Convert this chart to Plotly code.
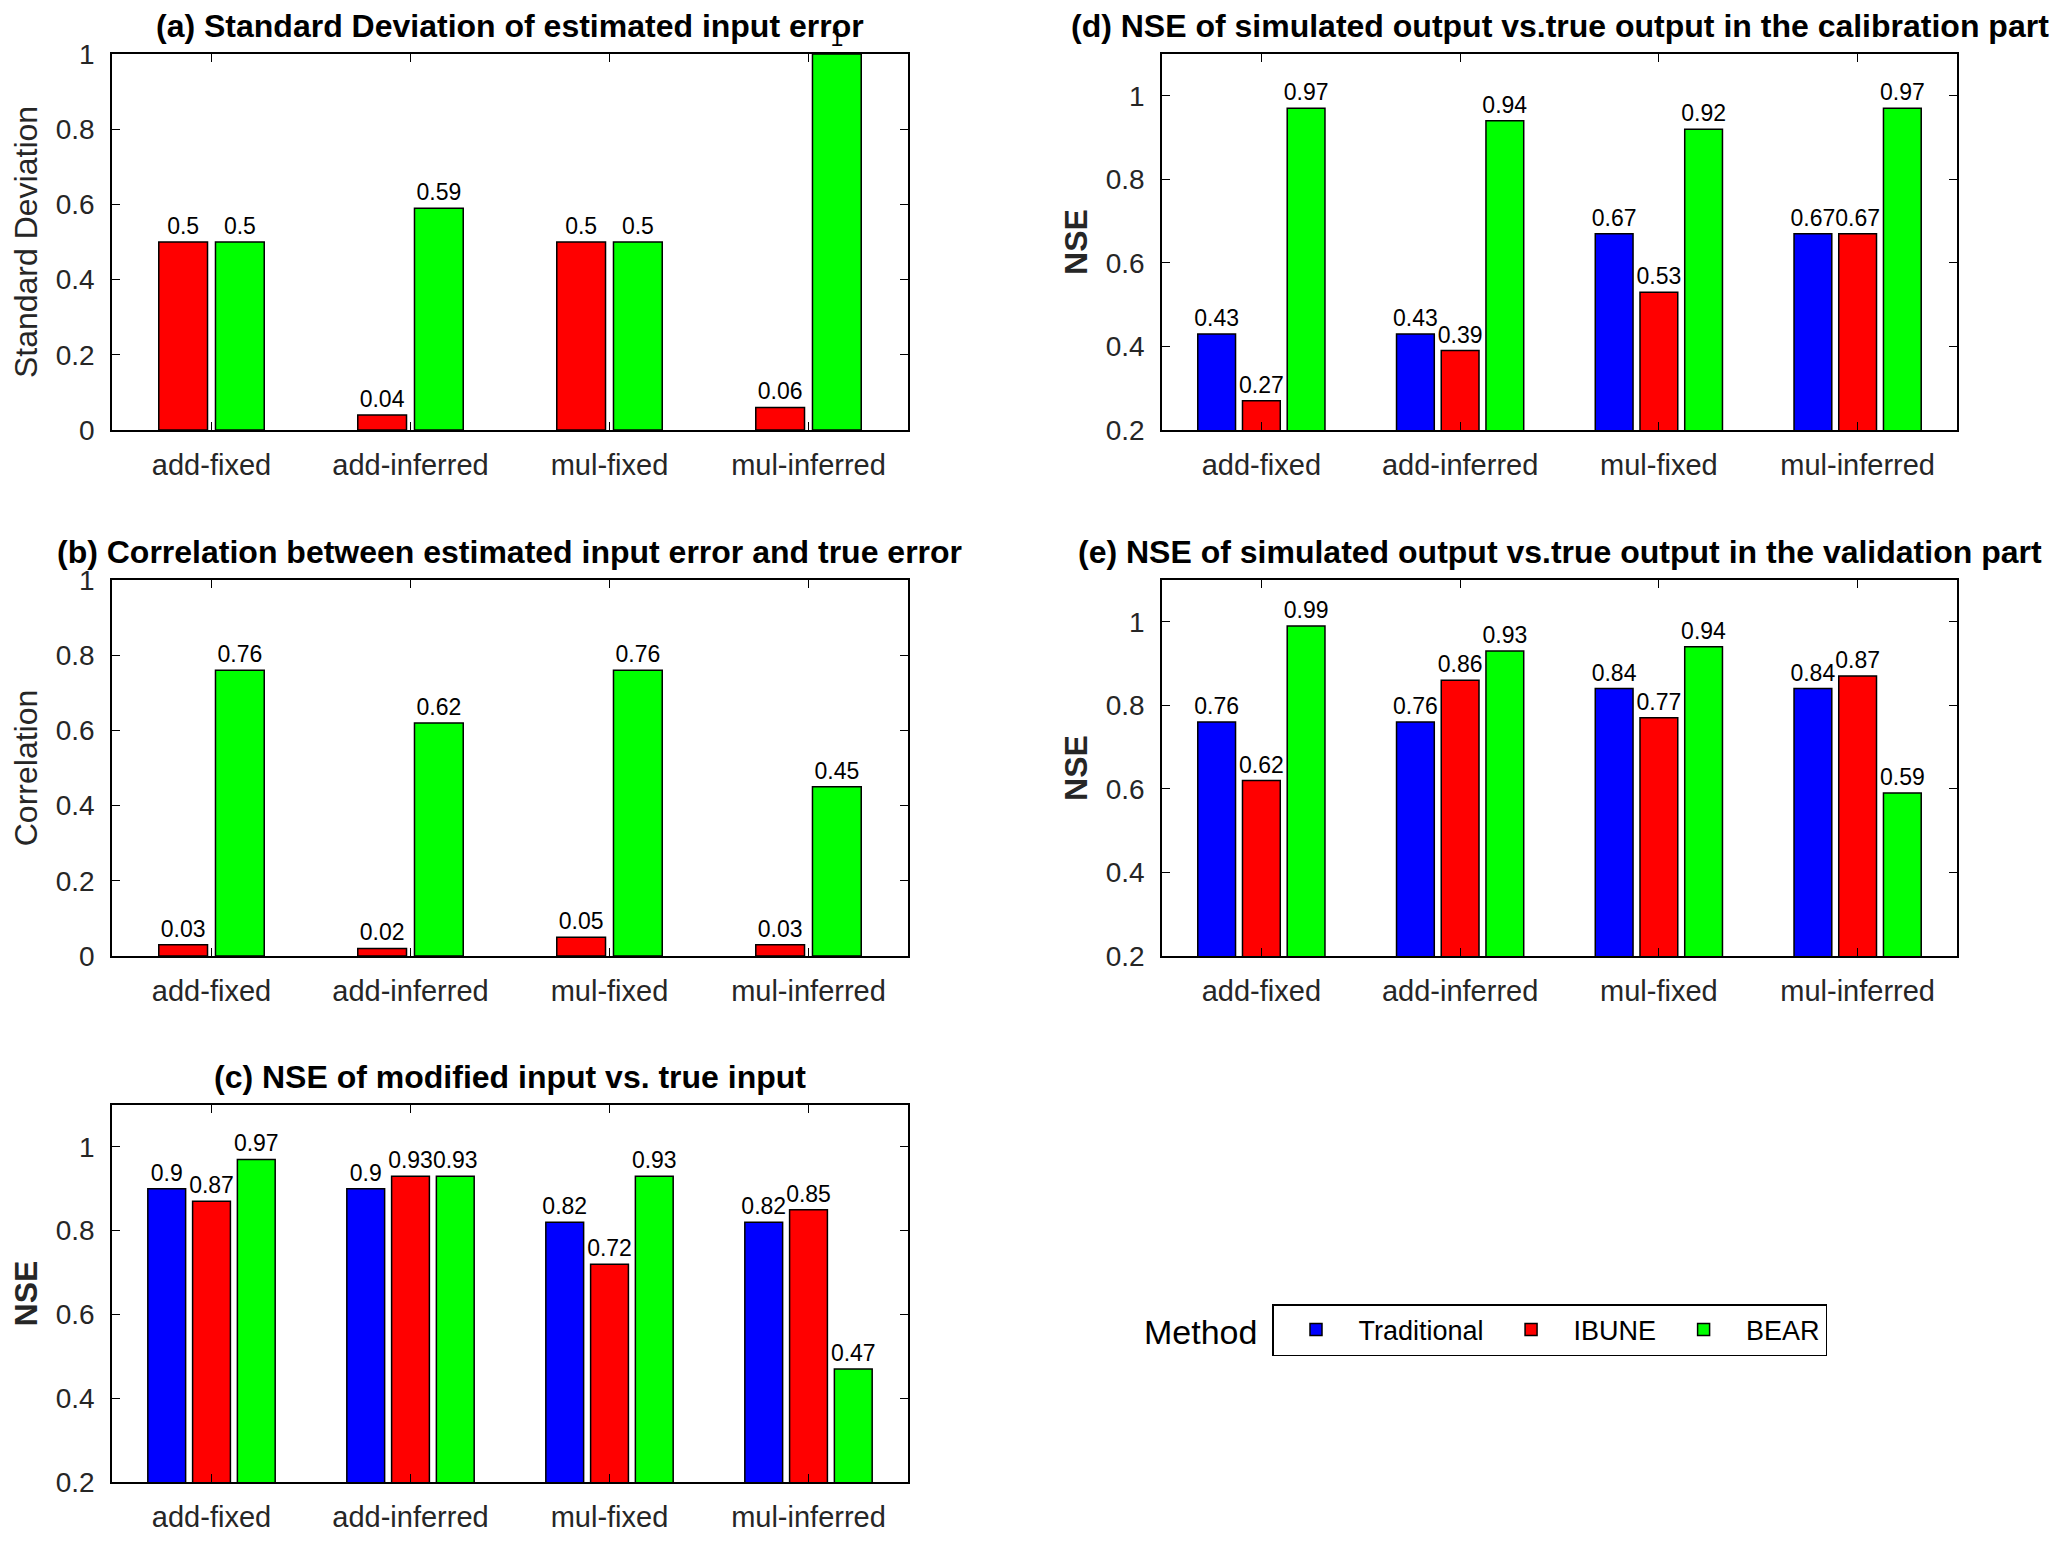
import plotly.graph_objects as go

# data
categories = ["add-fixed", "add-inferred", "mul-fixed", "mul-inferred"]

# (a) standard deviation of estimated input error
sd_ibune = [0.5, 0.04, 0.5, 0.06]
sd_bear = [0.5, 0.59, 0.5, 1.0]

# (b) correlation between estimated input error and true error
cor_ibune = [0.03, 0.02, 0.05, 0.03]
cor_bear = [0.76, 0.62, 0.76, 0.45]

# (c) NSE of modified input vs. true input
c_trad = [0.9, 0.9, 0.82, 0.82]
c_ibune = [0.87, 0.93, 0.72, 0.85]
c_bear = [0.97, 0.93, 0.93, 0.47]

# (d) NSE calibration
d_trad = [0.43, 0.43, 0.67, 0.67]
d_ibune = [0.27, 0.39, 0.53, 0.67]
d_bear = [0.97, 0.94, 0.92, 0.97]

# (e) NSE validation
e_trad = [0.76, 0.76, 0.84, 0.84]
e_ibune = [0.62, 0.86, 0.77, 0.87]
e_bear = [0.99, 0.93, 0.94, 0.59]

colors = {"Traditional": "#0000FF", "IBUNE": "#FF0000", "BEAR": "#00FF00"}
FONT = "Liberation Sans, Arial, Helvetica, sans-serif"
W, H = 2067, 1545
PAD = 8  # page body margin pushes the plot 8px right/down

# panel boxes in pixels of the final picture (left, right, top, bottom)
def dom(l, r, t, b):
    return [(l - PAD) / W, (r - PAD) / W], [1 - (b - PAD) / H, 1 - (t - PAD) / H]

panels = [
    # key, box, series, yrange, ytitle, title
    ("a", dom(112, 908, 54, 430), [("IBUNE", sd_ibune), ("BEAR", sd_bear)], [0, 1],
     "Standard Deviation", "Standard Deviation of estimated input error"),
    ("b", dom(112, 908, 580, 956), [("IBUNE", cor_ibune), ("BEAR", cor_bear)], [0, 1],
     "Correlation", "Correlation between estimated input error and true error"),
    ("c", dom(112, 908, 1105, 1482), [("Traditional", c_trad), ("IBUNE", c_ibune), ("BEAR", c_bear)], [0.2, 1.1],
     "<b>NSE</b>", "NSE of modified input vs. true input"),
    ("d", dom(1162, 1957, 54, 430), [("Traditional", d_trad), ("IBUNE", d_ibune), ("BEAR", d_bear)], [0.2, 1.1],
     "<b>NSE</b>", "NSE of simulated output vs.true output in the calibration part"),
    ("e", dom(1162, 1957, 580, 956), [("Traditional", e_trad), ("IBUNE", e_ibune), ("BEAR", e_bear)], [0.2, 1.1],
     "<b>NSE</b>", "NSE of simulated output vs.true output in the validation part"),
]

fig = go.Figure()
layout = {}
annotations = []

for i, (key, (xdom, ydom), series, yrange, ytitle, title) in enumerate(panels):
    n = i + 1
    xa = "x" if n == 1 else "x%d" % n
    ya = "y" if n == 1 else "y%d" % n
    if len(series) == 2:
        width = 0.245
        offsets = [-0.265, 0.02]
    else:
        width = 0.19
        offsets = [-0.32, -0.095, 0.13]
    for (name, vals), off in zip(series, offsets):
        fig.add_trace(go.Bar(
            x=list(range(len(categories))), y=vals, name=name,
            marker=dict(color=colors[name], line=dict(color="black", width=1.5)),
            width=width, offset=off,
            texttemplate="%{y}", textposition="outside", constraintext="none",
            textfont=dict(size=23, color="black", family=FONT),
            cliponaxis=False, showlegend=(key == "c"), legendgroup=name,
            xaxis=xa, yaxis=ya))
    lo, hi = yrange
    tv = [0, 0.2, 0.4, 0.6, 0.8, 1] if lo == 0 else [0.2, 0.4, 0.6, 0.8, 1]
    layout["xaxis" if n == 1 else "xaxis%d" % n] = dict(
        domain=xdom, anchor=ya, range=[-0.5, 3.5], automargin=False,
        tickvals=list(range(len(categories))), ticktext=categories,
        ticks="inside", ticklen=8, tickcolor="black", tickwidth=1.2,
        showline=True, linecolor="black", linewidth=1.5, mirror="ticks",
        showgrid=False, zeroline=False, ticklabelstandoff=8,
        tickfont=dict(size=29, color="#262626", family=FONT))
    layout["yaxis" if n == 1 else "yaxis%d" % n] = dict(
        domain=ydom, anchor=xa, range=[lo, hi], automargin=False,
        tickvals=tv, ticktext=["%g" % v for v in tv],
        ticks="inside", ticklen=8, tickcolor="black", tickwidth=1.2,
        showline=True, linecolor="black", linewidth=1.5, mirror="ticks",
        showgrid=False, zeroline=False, ticklabelstandoff=10,
        tickfont=dict(size=28, color="#262626", family=FONT),
        title=dict(text=ytitle, standoff=9, font=dict(size=32, color="#262626", family=FONT)))
    annotations.append(dict(
        text="<b>(%s) %s</b>" % (key, title), xref="paper", yref="paper",
        x=(xdom[0] + xdom[1]) / 2, y=ydom[1], xanchor="center", yanchor="bottom",
        yshift=8, showarrow=False, font=dict(size=32, color="black", family=FONT)))

annotations.append(dict(
    text="Method", xref="paper", yref="paper", x=(1259 - PAD) / W, y=1 - (1332 - PAD) / H,
    xanchor="right", yanchor="middle", showarrow=False,
    font=dict(size=34, color="black", family=FONT)))

fig.update_layout(
    width=W, height=H,
    margin=dict(l=0, r=0, t=0, b=0),
    paper_bgcolor="white", plot_bgcolor="white",
    annotations=annotations,
    legend=dict(orientation="h", x=(1272 - PAD) / W, y=1 - (1330 - PAD) / H,
                xanchor="left", yanchor="middle",
                bordercolor="black", borderwidth=1.5, bgcolor="white",
                font=dict(size=27, color="black", family=FONT), itemwidth=75,
                traceorder="normal"),
    **layout)

fig.write_html("out.html")
